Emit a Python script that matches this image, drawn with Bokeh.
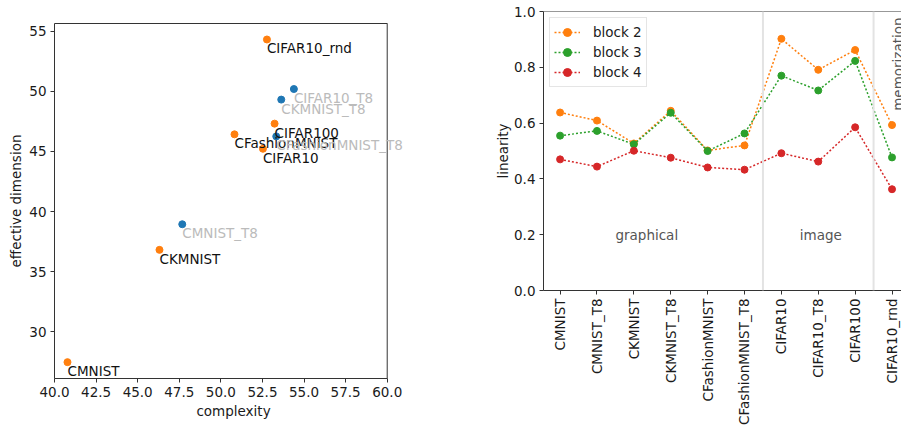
import math
from bokeh.plotting import figure
from bokeh.layouts import row, column
from bokeh.models import (ColumnDataSource, Label, Span, FixedTicker, LinearAxis,
                          NumeralTickFormatter, Legend)
from bokeh.embed import file_html
from bokeh.resources import INLINE

# ---------------- data ----------------
# left scatter: complexity vs effective dimension
sc_names = ["CMNIST", "CKMNIST", "CFashionMNIST", "CIFAR10", "CIFAR100", "CIFAR10_rnd",
            "CMNIST_T8", "CKMNIST_T8", "CFashionMNIST_T8", "CIFAR10_T8"]
sc_complexity = [40.78, 46.31, 50.82, 52.53, 53.23, 52.77,
                 47.68, 53.63, 53.33, 54.39]
sc_effdim = [27.47, 36.81, 46.42, 45.22, 47.31, 54.31,
             38.94, 49.31, 46.25, 50.19]
sc_group = ["orig"] * 6 + ["T8"] * 4

# right line chart: linearity per dataset
categories = ["CMNIST", "CMNIST_T8", "CKMNIST", "CKMNIST_T8", "CFashionMNIST",
              "CFashionMNIST_T8", "CIFAR10", "CIFAR10_T8", "CIFAR100", "CIFAR10_rnd"]
block2 = [0.638, 0.609, 0.527, 0.644, 0.502, 0.520, 0.902, 0.791, 0.862, 0.593]
block3 = [0.555, 0.572, 0.524, 0.637, 0.500, 0.563, 0.770, 0.717, 0.823, 0.477]
block4 = [0.470, 0.444, 0.501, 0.476, 0.441, 0.433, 0.492, 0.462, 0.585, 0.363]
series_names = ["block 2", "block 3", "block 4"]
group_names = ["graphical", "image", "memorization"]

FONT = "DejaVu Sans"
FS = "13.5px"
AX = "#333333"
ORANGE, BLUE, GREEN, RED = "#ff7f0e", "#1f77b4", "#2ca02c", "#d62728"


def style_axis(ax):
    ax.major_label_text_font = FONT
    ax.major_label_text_font_size = FS
    ax.major_label_text_color = "#1a1a1a"
    ax.axis_label_text_font = FONT
    ax.axis_label_text_font_size = FS
    ax.axis_label_text_font_style = "normal"
    ax.axis_label_text_color = "#1a1a1a"
    ax.axis_line_color = AX
    ax.major_tick_line_color = AX
    ax.major_tick_out = 4
    ax.major_tick_in = 0
    ax.minor_tick_out = 0
    ax.minor_tick_in = 0
    ax.major_label_standoff = 4


def style_axes(p):
    for ax in (p.xaxis + p.yaxis):
        style_axis(ax)
    p.xgrid.grid_line_color = None
    p.ygrid.grid_line_color = None


# ---------------- left figure ----------------
X_LO, X_HI = 40, 60
p1 = figure(width=470, height=428, x_range=(X_LO, 61.52), y_range=(26.11, 55.64),
            output_backend="svg", toolbar_location=None,
            min_border_left=54, min_border_right=58, min_border_top=23, min_border_bottom=50)
p1.outline_line_color = None
style_axes(p1)
p1.xaxis.axis_label = "complexity"
p1.yaxis.axis_label = "effective dimension"
p1.xaxis.ticker = FixedTicker(ticks=[40, 42.5, 45, 47.5, 50, 52.5, 55, 57.5, 60])
p1.xaxis.formatter = NumeralTickFormatter(format="0.0")
p1.xaxis.bounds = (X_LO, X_HI)
p1.yaxis.ticker = FixedTicker(ticks=[30, 35, 40, 45, 50, 55])
p1.xaxis.axis_label_standoff = 3
p1.yaxis.axis_label_standoff = 2
# top and right spines of the plotting box
top_ax = LinearAxis(bounds=(X_LO, X_HI), major_tick_out=0, major_tick_in=0,
                    minor_tick_out=0, minor_tick_in=0, major_label_text_font_size="0px",
                    axis_line_color=AX)
top_ax.ticker = FixedTicker(ticks=[])
p1.add_layout(top_ax, "above")
p1.add_layout(Span(location=X_HI, dimension="height", line_color=AX, line_width=1))

colors = [ORANGE if g == "orig" else BLUE for g in sc_group]
tcolors = ["#111111" if g == "orig" else "#bbbbbb" for g in sc_group]
src1 = ColumnDataSource(dict(x=sc_complexity, y=sc_effdim, name=sc_names,
                             color=colors, tcolor=tcolors))
p1.scatter("x", "y", source=src1, size=7, fill_color="color", line_color="color")
for xv, yv, nm, tc in zip(sc_complexity, sc_effdim, sc_names, tcolors):
    p1.add_layout(Label(x=xv, y=yv, text=nm, text_color=tc, text_font=FONT,
                        text_font_size=FS, text_align="left", text_baseline="top",
                        y_offset=-1))

# ---------------- right figure ----------------
xs = list(range(len(categories)))
p2 = figure(width=431, height=428, x_range=(-0.45, 9.257), y_range=(0, 1.0),
            output_backend="svg", toolbar_location=None,
            min_border_left=73, min_border_right=0, min_border_top=11, min_border_bottom=138)
p2.outline_line_color = None
style_axes(p2)
p2.yaxis.axis_label = "linearity"
p2.yaxis.axis_label_standoff = 0
p2.yaxis.ticker = FixedTicker(ticks=[0, 0.2, 0.4, 0.6, 0.8, 1.0])
p2.yaxis.formatter = NumeralTickFormatter(format="0.0")
p2.xaxis.ticker = FixedTicker(ticks=xs)
p2.xaxis.major_label_overrides = {i: c for i, c in enumerate(categories)}
p2.xaxis.major_label_orientation = math.pi / 2
p2.xaxis.major_label_standoff = 4

p2.add_layout(Span(location=1.0, dimension="width", line_color=AX, line_width=1))
for loc in (5.5, 8.5):
    p2.add_layout(Span(location=loc, dimension="height", line_color="#e3e3e3", line_width=2))

items = []
for name, vals, col in zip(series_names, [block2, block3, block4], [ORANGE, GREEN, RED]):
    src = ColumnDataSource(dict(x=xs, y=vals))
    r1 = p2.line("x", "y", source=src, line_color=col, line_width=1.5, line_dash="2 2")
    r2 = p2.scatter("x", "y", source=src, size=7, fill_color=col, line_color=col)
    items.append((name, [r1, r2]))

legend = Legend(items=items, location="top_left")
legend.label_text_font = FONT
legend.label_text_font_size = FS
legend.label_text_color = "#1a1a1a"
legend.border_line_color = "#cccccc"
legend.background_fill_alpha = 0.85
legend.margin = 6
legend.padding = 4
legend.spacing = 0
legend.label_height = 20
legend.glyph_height = 20
legend.glyph_width = 26
legend.label_standoff = 13
p2.add_layout(legend)

for txt, gx in zip(group_names[:2], [1.5, 6.5]):
    p2.add_layout(Label(x=gx, y=0.2, text=txt, text_font=FONT, text_font_size=FS,
                        text_color="#555555", text_align="left", text_baseline="alphabetic"))
p2.add_layout(Label(x=9.15, y=0.644, text=group_names[2], angle=math.pi / 2,
                    text_font=FONT, text_font_size=FS, text_color="#555555",
                    text_align="left", text_baseline="alphabetic"))

layout = row(column(p1), column(p2))
open("out.html", "w").write(file_html(layout, INLINE))
